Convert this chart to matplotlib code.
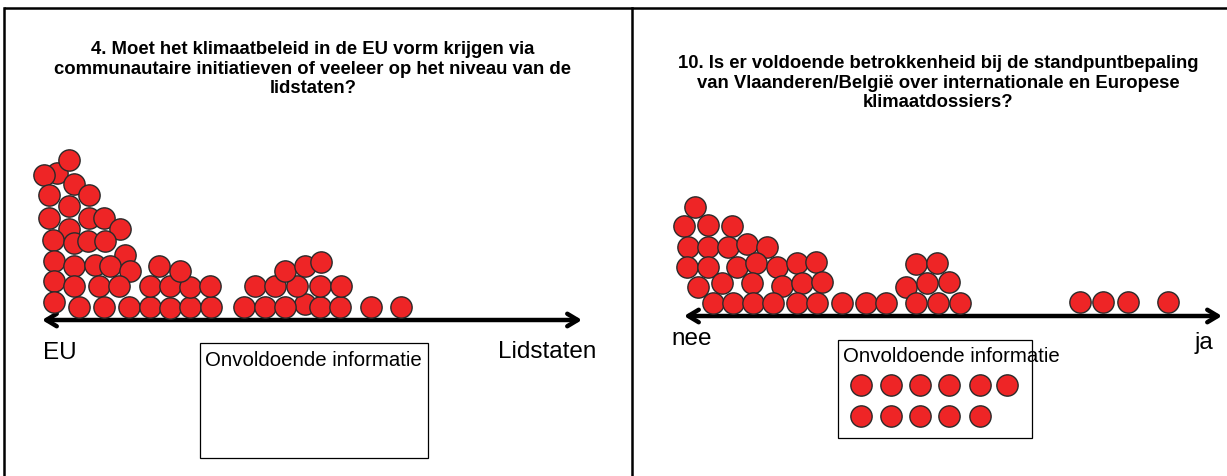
import matplotlib
matplotlib.use("Agg")
import matplotlib.pyplot as plt
from matplotlib.patches import Rectangle

# ---------------- data (dot centres, pixel frame) ----------------
left_x = [57, 44, 69, 74, 49, 89, 69, 49, 89, 104, 120, 69, 53, 74, 88, 105, 125, 54, 74, 95,
          110, 130, 54, 74, 99, 119, 54, 79, 104, 129,
          150, 170, 190, 211, 150, 170, 190, 210, 180, 159,
          305, 244, 265, 285, 320, 340, 371, 401, 255, 275, 297, 320, 341, 285, 305, 321]
left_y = [173, 175, 160, 184, 195, 195, 206, 218, 218, 218, 229, 229, 240, 243, 241, 241, 255, 261, 266, 265,
          266, 271, 281, 286, 286, 286, 302, 307, 307, 307,
          307, 308, 307, 307, 286, 286, 287, 286, 271, 266,
          304, 307, 307, 307, 307, 307, 307, 307, 286, 286, 286, 286, 286, 271, 266, 262]

right_x = [695, 684, 708, 732, 688, 708, 728, 747, 767, 687, 708, 737, 756, 777, 797, 816,
           698, 722, 752, 782, 802, 822, 713, 733, 753, 773, 797, 817, 842, 866, 886,
           906, 916, 937, 927, 949, 916, 938, 960, 1080, 1103, 1128, 1168]
right_y = [207, 226, 225, 226, 247, 247, 247, 244, 247, 267, 267, 267, 263, 267, 263, 262,
           287, 283, 283, 286, 283, 282, 303, 303, 303, 303, 303, 303, 303, 303, 303,
           287, 264, 263, 283, 282, 303, 303, 303, 302, 302, 302, 302]

inset_x = [861, 891, 920, 949, 980, 1007, 861, 891, 920, 949, 980]
inset_y = [385, 385, 385, 385, 385, 385, 416, 416, 416, 416, 416]

title_left = ("4. Moet het klimaatbeleid in de EU vorm krijgen via\n"
              "communautaire initiatieven of veeleer op het niveau van de\n"
              "lidstaten?")
title_right = ("10. Is er voldoende betrokkenheid bij de standpuntbepaling\n"
               "van Vlaanderen/België over internationale en Europese\n"
               "klimaatdossiers?")
axis_labels_left = ["EU", "Lidstaten"]
axis_labels_right = ["nee", "ja"]
box_label = "Onvoldoende informatie"

# ---------------- figure ----------------
W, H = 1227, 476
fig = plt.figure(figsize=(W / 100, H / 100), dpi=100)
ax = fig.add_axes([0, 0, 1, 1])
ax.set_xlim(0, W)
ax.set_ylim(H, 0)
ax.axis("off")

FONT = "Liberation Sans"
RED = "#ee2526"
EDGE = "#2a2a2a"
S = 235

# panel borders
ax.plot([4, W], [8, 8], color="black", lw=1.8, solid_capstyle="butt")
ax.plot([4, 4], [8, H], color="black", lw=1.8)
ax.plot([632, 632], [8, H], color="black", lw=1.8)

# titles
ax.text(313, 69, title_left, ha="center", va="center", fontsize=13.3,
        fontweight="bold", family=FONT, linespacing=1.2)
ax.text(938, 83, title_right, ha="center", va="center", fontsize=13.3,
        fontweight="bold", family=FONT, linespacing=1.2)

# axis arrows
arrow = dict(arrowstyle="<->,head_length=0.75,head_width=0.45", lw=3.2,
             color="black", shrinkA=0, shrinkB=0)
ax.annotate("", xy=(42, 320), xytext=(582, 320), arrowprops=arrow)
ax.annotate("", xy=(684, 316), xytext=(1222, 316), arrowprops=arrow)

# axis end labels
ax.text(43, 353, axis_labels_left[0], ha="left", va="center", fontsize=17.5, family=FONT)
ax.text(596, 352, axis_labels_left[1], ha="right", va="center", fontsize=17.5, family=FONT)
ax.text(671, 339, axis_labels_right[0], ha="left", va="center", fontsize=17.5, family=FONT)
ax.text(1195, 343, axis_labels_right[1], ha="left", va="center", fontsize=17.5, family=FONT)

# "insufficient information" boxes
ax.add_patch(Rectangle((200, 343), 228, 115, fill=False, edgecolor="black", lw=0.9))
ax.add_patch(Rectangle((838, 340), 194, 98, fill=False, edgecolor="black", lw=0.9))
ax.text(205, 360, box_label, ha="left", va="center", fontsize=14.7, family=FONT)
ax.text(843, 356, box_label, ha="left", va="center", fontsize=14.7, family=FONT)

# dots
for xs, ys in [(left_x, left_y), (right_x, right_y), (inset_x, inset_y)]:
    ax.scatter(xs, ys, s=S, c=RED, edgecolors=EDGE, linewidths=1.0, zorder=3)

fig.savefig("out.png", dpi=100, facecolor="white")
